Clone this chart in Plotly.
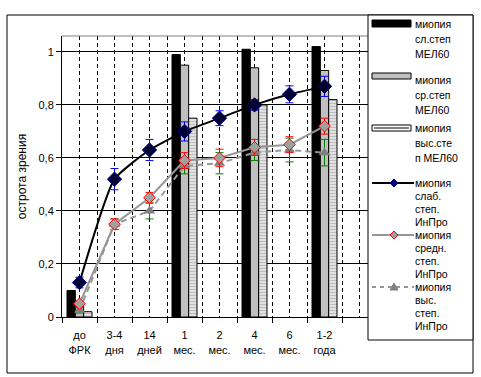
import plotly.graph_objects as go

# ---- data ----
categories = ["до<br>ФРК", "3-4<br>дня", "14<br>дней", "1<br>мес.", "2<br>мес.", "4<br>мес.", "6<br>мес.", "1-2<br>года", ""]
mel_low = [0.10, None, None, 0.99, None, 1.01, None, 1.02]
mel_mid = [0.04, None, None, 0.95, None, 0.94, None, 0.93]
mel_high = [0.02, None, None, 0.75, None, 0.80, None, 0.82]

inpro_low = [0.13, 0.52, 0.63, 0.70, 0.75, 0.80, 0.84, 0.87]
inpro_low_err = [0.02, 0.04, 0.04, 0.036, 0.028, 0.02, 0.032, 0.038]
inpro_mid = [0.05, 0.35, 0.45, 0.59, 0.60, 0.64, 0.65, 0.72]
inpro_mid_err = [0.01, 0.02, 0.02, 0.03, 0.033, 0.03, 0.03, 0.03]
inpro_high = [0.025, 0.35, 0.40, 0.57, 0.58, 0.62, 0.63, 0.62]
inpro_high_err = [0.01, 0.02, 0.03, 0.03, 0.04, 0.03, 0.045, 0.05]

y_ticks = [0, 0.2, 0.4, 0.6, 0.8, 1.0]
y_ticktext = ["0", "0,2", "0,4", "0,6", "0,8", "1"]

legend_lines = [
    ["миопия", "сл.степ", "МЕЛ60"],
    ["миопия", "ср.степ", "МЕЛ60"],
    ["миопия", "выс.сте", "п МЕЛ60"],
    ["миопия", "слаб.", "степ.", "ИнПро"],
    ["миопия", "средн.", "степ.", "ИнПро"],
    ["миопия", "выс.", "степ.", "ИнПро"],
]

FONT = "Liberation Sans, Arial, sans-serif"
W, H = 481, 377
L, R, T, B = 62, 104, 36, 60
PW, PH = W - L - R, H - T - B

def X(px):
    return (px - L) / PW

def Y(py):
    return (H - B - py) / PH

xs = list(range(len(inpro_low)))

fig = go.Figure()
fig.add_trace(go.Bar(x=xs, y=mel_low, name="b1",
                     marker=dict(color="black", line=dict(color="black", width=1))))
fig.add_trace(go.Bar(x=xs, y=mel_mid, name="b2",
                     marker=dict(color="#c0c0c0", line=dict(color="black", width=1))))
fig.add_trace(go.Bar(x=xs, y=mel_high, name="b3",
                     marker=dict(color="white", line=dict(color="black", width=1),
                                 pattern=dict(shape="-", fgcolor="#808080", bgcolor="white",
                                              size=3, solidity=0.65))))

fig.add_trace(go.Scatter(x=xs, y=inpro_high, mode="lines+markers",
                         line=dict(color="#969696", width=2, dash="6px,4px"),
                         marker=dict(symbol="triangle-up", size=10, color="#808080"),
                         error_y=dict(type="data", array=inpro_high_err, color="#008000",
                                      thickness=1, width=4)))
fig.add_trace(go.Scatter(x=xs, y=inpro_mid, mode="lines+markers",
                         line=dict(color="#969696", width=2),
                         marker=dict(symbol="diamond", size=9, color="#a0a0a0",
                                     line=dict(color="red", width=1)),
                         error_y=dict(type="data", array=inpro_mid_err, color="red",
                                      thickness=1, width=4)))
fig.add_trace(go.Scatter(x=xs, y=inpro_low, mode="lines+markers",
                         line=dict(color="black", width=2, shape="spline", smoothing=0.5),
                         marker=dict(symbol="diamond", size=11, color="#000033",
                                     line=dict(color="#000080", width=1)),
                         error_y=dict(type="data", array=inpro_low_err, color="blue",
                                      thickness=1, width=4)))

shapes = []
# outer chart border
shapes.append(dict(type="rect", xref="paper", yref="paper", x0=X(7), x1=X(473), y0=Y(373), y1=Y(15),
                   line=dict(color="black", width=1), fillcolor="rgba(0,0,0,0)", layer="above"))
# top border of plot area
shapes.append(dict(type="line", xref="paper", yref="paper", x0=0, x1=1, y0=1, y1=1,
                   line=dict(color="#808080", width=1)))
# legend box
shapes.append(dict(type="rect", xref="paper", yref="paper", x0=X(368), x1=X(473), y0=Y(340), y1=Y(15),
                   line=dict(color="black", width=1), fillcolor="white"))
# legend symbols
shapes.append(dict(type="rect", xref="paper", yref="paper", x0=X(372), x1=X(411), y0=Y(27), y1=Y(20),
                   line=dict(color="black", width=1), fillcolor="black"))
shapes.append(dict(type="rect", xref="paper", yref="paper", x0=X(372), x1=X(411), y0=Y(79), y1=Y(73),
                   line=dict(color="black", width=1), fillcolor="#c0c0c0"))
shapes.append(dict(type="rect", xref="paper", yref="paper", x0=X(372), x1=X(411), y0=Y(131), y1=Y(125),
                   line=dict(color="black", width=1), fillcolor="white"))
shapes.append(dict(type="line", xref="paper", yref="paper", x0=X(374), x1=X(409), y0=Y(128), y1=Y(128),
                   line=dict(color="#808080", width=2)))
line_items = [(183, "black", "solid", "#000080", "#000080", "diamond"),
              (235, "#969696", "solid", "#a0a0a0", "red", "diamond"),
              (287, "#969696", "4px,4px", "#808080", "#808080", "triangle")]
for ly, lc, dash, mfill, mline, sym in line_items:
    shapes.append(dict(type="line", xref="paper", yref="paper", x0=X(372), x1=X(414), y0=Y(ly), y1=Y(ly),
                       line=dict(color=lc, width=2, dash=dash)))
    cx = 394
    if sym == "diamond":
        path = f"M {X(cx-4)} {Y(ly)} L {X(cx)} {Y(ly-4)} L {X(cx+4)} {Y(ly)} L {X(cx)} {Y(ly+4)} Z"
    else:
        path = f"M {X(cx-4)} {Y(ly+3)} L {X(cx)} {Y(ly-4)} L {X(cx+4)} {Y(ly+3)} Z"
    shapes.append(dict(type="path", xref="paper", yref="paper", path=path,
                       fillcolor=mfill, line=dict(color=mline, width=1)))

annotations = []
legend_first_y = [24, 80, 128, 183, 235, 287]
for lines, ty in zip(legend_lines, legend_first_y):
    step = 15 if len(lines) == 3 else 13
    for k, txt in enumerate(lines):
        annotations.append(dict(xref="paper", yref="paper", x=X(413), y=Y(ty + k * step),
                                xanchor="left", yanchor="middle", text=txt, showarrow=False,
                                font=dict(family=FONT, size=10.5, color="black")))

fig.update_layout(
    width=W, height=H,
    margin=dict(l=L, r=R, t=T, b=B, pad=0),
    paper_bgcolor="white", plot_bgcolor="white",
    showlegend=False,
    barmode="group", bargap=0.286, bargroupgap=0,
    font=dict(family=FONT, size=11, color="black"),
    shapes=shapes, annotations=annotations,
    xaxis=dict(range=[-0.5, 8.5], tickmode="array", tickvals=list(range(9)), ticktext=categories,
               ticks="", showgrid=True, gridcolor="black", gridwidth=1, griddash="4px,3px",
               showline=True, linecolor="black", linewidth=1, zeroline=False,
               ticklabelstandoff=8, automargin=False,
               minor=dict(tickmode="array", tickvals=[i - 0.5 for i in range(10)],
                          ticks="outside", ticklen=5, tickcolor="black", tickwidth=1,
                          showgrid=True, gridcolor="black", gridwidth=1, griddash="4px,3px"),
               tickfont=dict(family=FONT, size=11, color="black")),
    yaxis=dict(range=[0, 1.06], tickmode="array", tickvals=y_ticks, ticktext=y_ticktext,
               ticks="outside", ticklen=5, tickcolor="black", automargin=False,
               showgrid=True, gridcolor="black", gridwidth=1,
               showline=True, linecolor="black", linewidth=1, zeroline=False,
               tickfont=dict(family=FONT, size=11, color="black"),
               title=dict(text="острота зрения", standoff=9,
                          font=dict(family=FONT, size=12, color="black"))),
)

fig.write_html("out.html", config={"displayModeBar": False},
               post_script="document.body.style.margin='0';")
